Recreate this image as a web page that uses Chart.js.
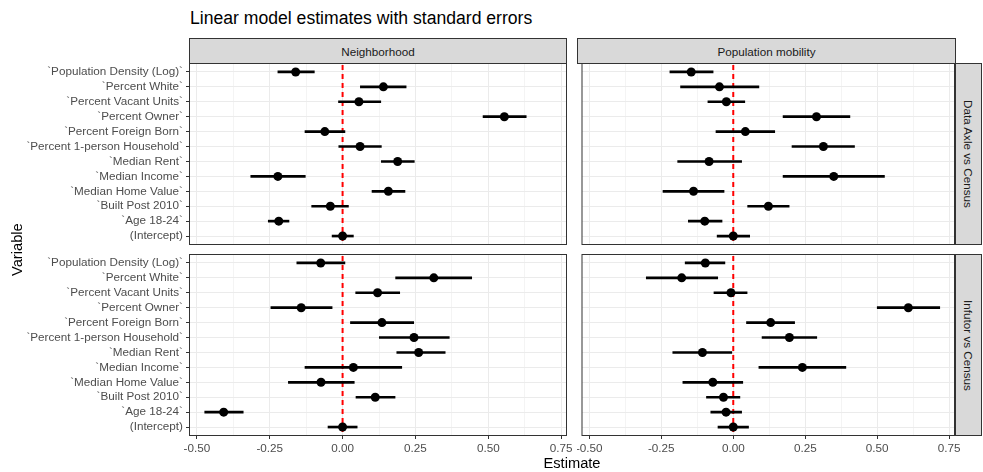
<!DOCTYPE html>
<html>
<head>
<meta charset="utf-8">
<script src="https://cdn.jsdelivr.net/npm/chart.js@4.4.1/dist/chart.umd.min.js"></script>
<style>
    body { margin: 0; background: #fff; }
    #wrap { position: relative; width: 983px; height: 472px; overflow: hidden; font-family: "Liberation Sans", Arial, sans-serif; }
    canvas { position: absolute; }
    .strip { position: absolute; background: #D9D9D9; border: 1px solid #333; box-sizing: border-box; color: #1A1A1A; font-size: 11.7px; display: flex; align-items: center; justify-content: center; z-index: 2; }
    .strip.side { writing-mode: vertical-rl; }
    .txt { position: absolute; color: #000; line-height: 1; white-space: nowrap; font-weight: normal; }
    #ytitle { left: 10px; top: 63px; width: 15px; height: 373px; writing-mode: vertical-rl; transform: rotate(180deg); text-align: center; }
</style>
</head>
<body>
<div id="wrap">
    <div class="txt" style="left:190px; top:10px; font-size:17.6px;">Linear model estimates with standard errors</div>
    <canvas id="nbAxle"></canvas>
    <canvas id="pmAxle"></canvas>
    <canvas id="nbInfutor"></canvas>
    <canvas id="pmInfutor"></canvas>
    <div class="strip" id="stripTopL" style="left:189px; top:38px; width:378px; height:26px;"></div>
    <div class="strip" id="stripTopR" style="left:577px; top:38px; width:379px; height:26px;"></div>
    <div class="strip side" id="stripSideT" style="left:955px; top:63px; width:27px; height:182px;"></div>
    <div class="strip side" id="stripSideB" style="left:955px; top:254px; width:27px; height:182px;"></div>
    <div class="txt" style="left:572px; top:456px; font-size:14.67px; transform:translateX(-50%);">Estimate</div>
    <div class="txt" id="ytitle" style="font-size:14.67px;">Variable</div>
</div>
<script>
// Data
const variables = ['`Population Density (Log)`', '`Percent White`', '`Percent Vacant Units`', '`Percent Owner`',
    '`Percent Foreign Born`', '`Percent 1-person Household`', '`Median Rent`', '`Median Income`',
    '`Median Home Value`', '`Built Post 2010`', '`Age 18-24`', '(Intercept)'];
const xTicks = [-0.5, -0.25, 0, 0.25, 0.5, 0.75];
const colFacets = ['Neighborhood', 'Population mobility'];
const rowFacets = ['Data Axle vs Census', 'Infutor vs Census'];

// Neighborhood / Data Axle vs Census
const nbAxleEst  = [-0.161, 0.140, 0.056, 0.555, -0.061, 0.060, 0.189, -0.222, 0.157, -0.042, -0.219, 0.000];
const nbAxleLow  = [-0.222, 0.061, -0.014, 0.482, -0.129, -0.013, 0.133, -0.315, 0.101, -0.106, -0.255, -0.036];
const nbAxleHigh = [-0.097, 0.218, 0.131, 0.630, 0.008, 0.133, 0.246, -0.128, 0.214, 0.020, -0.184, 0.037];

// Population mobility / Data Axle vs Census
const pmAxleEst  = [-0.146, -0.048, -0.024, 0.289, 0.042, 0.313, -0.084, 0.349, -0.138, 0.122, -0.099, 0.000];
const pmAxleLow  = [-0.220, -0.183, -0.088, 0.173, -0.060, 0.204, -0.193, 0.173, -0.244, 0.050, -0.156, -0.056];
const pmAxleHigh = [-0.070, 0.089, 0.040, 0.405, 0.144, 0.421, 0.029, 0.525, -0.032, 0.194, -0.039, 0.057];

// Neighborhood / Infutor vs Census
const nbInfEst  = [-0.075, 0.313, 0.120, -0.142, 0.135, 0.245, 0.261, 0.037, -0.074, 0.112, -0.408, 0.000];
const nbInfLow  = [-0.157, 0.182, 0.045, -0.246, 0.027, 0.126, 0.186, -0.129, -0.186, 0.046, -0.473, -0.050];
const nbInfHigh = [0.008, 0.443, 0.196, -0.036, 0.244, 0.366, 0.352, 0.203, 0.040, 0.180, -0.341, 0.050];

// Population mobility / Infutor vs Census
const pmInfEst  = [-0.097, -0.179, -0.008, 0.608, 0.130, 0.195, -0.107, 0.240, -0.071, -0.034, -0.025, 0.000];
const pmInfLow  = [-0.167, -0.302, -0.067, 0.500, 0.046, 0.100, -0.210, 0.089, -0.175, -0.093, -0.078, -0.053];
const pmInfHigh = [-0.029, -0.054, 0.048, 0.717, 0.213, 0.290, -0.005, 0.391, 0.033, 0.023, 0.029, 0.053];

// Layout
const PANEL_W = 378, PANEL_H = 182, PAD = 12, Y_AXIS_W = 189, X_AXIS_H = 30;
const X_MIN = -0.527, X_MAX = 0.77;

document.getElementById('stripTopL').textContent = colFacets[0];
document.getElementById('stripTopR').textContent = colFacets[1];
document.getElementById('stripSideT').textContent = rowFacets[0];
document.getElementById('stripSideB').textContent = rowFacets[1];

Chart.defaults.font.family = '"Liberation Sans", Arial, sans-serif';

const gridSteps = xTicks.flatMap((v, i) => i ? [(xTicks[i - 1] + v) / 2, v] : [v]);
const isMajor = v => xTicks.some(t => Math.abs(t - v) < 1e-9);

// red dashed reference line at 0
const zeroLine = {
    id: 'zeroLine',
    beforeDatasetsDraw(chart) {
        const { ctx, chartArea, scales } = chart;
        const px = scales.x.getPixelForValue(0);
        ctx.save();
        ctx.strokeStyle = '#FF0000';
        ctx.lineWidth = 2;
        ctx.setLineDash([5, 4]);
        ctx.beginPath();
        ctx.moveTo(px, chartArea.top + 2);
        ctx.lineTo(px, chartArea.bottom);
        ctx.stroke();
        ctx.restore();
    }
};

const panelBorder = {
    id: 'panelBorder',
    afterDraw(chart) {
        const { ctx, chartArea: a } = chart;
        ctx.save();
        ctx.strokeStyle = '#333';
        ctx.lineWidth = 1;
        ctx.strokeRect(a.left + 0.5, a.top + 0.5, a.width - 1, a.height - 1);
        ctx.restore();
    }
};

const makePanel = (id, est, low, high, showY, showX) => {
    const canvas = document.getElementById(id);
    const w = (showY ? Y_AXIS_W : 0) + PANEL_W + PAD;
    const h = PAD + PANEL_H + (showX ? X_AXIS_H : PAD);
    canvas.width = w; canvas.height = h;
    canvas.style.left = (showY ? 0 : 577) + 'px';
    canvas.style.top = ((showX ? 254 : 63) - PAD) + 'px';

    return new Chart(canvas, {
        type: 'bar',
        data: {
            datasets: [
                {
                    type: 'scatter', order: 0,
                    data: est.map((v, i) => ({ x: v, y: i })),
                    pointRadius: 4.5, pointHoverRadius: 4.5,
                    pointBackgroundColor: '#000', pointBorderColor: '#000', pointBorderWidth: 0
                },
                {
                    type: 'bar', order: 1,
                    data: low.map((v, i) => ({ x: [v, high[i]], y: i })),
                    backgroundColor: '#000', borderWidth: 0, barThickness: 2
                }
            ]
        },
        options: {
            indexAxis: 'y',
            responsive: false, animation: false, devicePixelRatio: 1,
            layout: { padding: { top: PAD, right: PAD, bottom: showX ? 0 : PAD, left: 0 } },
            plugins: { legend: { display: false }, tooltip: { enabled: false } },
            scales: {
                x: {
                    type: 'linear', min: X_MIN, max: X_MAX, bounds: 'data', offset: false,
                    afterBuildTicks: s => { s.ticks = gridSteps.map(v => ({ value: v })); },
                    afterFit: s => { s.height = showX ? X_AXIS_H : 0; s.paddingLeft = 0; s.paddingRight = 0; },
                    ticks: {
                        display: showX, color: '#4D4D4D', font: { size: 11.7 }, padding: 3,
                        maxRotation: 0, autoSkip: false,
                        callback: v => isMajor(v) ? v.toFixed(2) : ''
                    },
                    grid: {
                        offset: false,
                        color: c => isMajor(c.tick.value) ? '#EBEBEB' : '#F4F4F4', lineWidth: 1,
                        drawTicks: showX, tickLength: 3,
                        tickColor: c => isMajor(c.tick.value) ? '#333' : 'rgba(0,0,0,0)'
                    },
                    border: { display: false }
                },
                y: {
                    type: 'linear', reverse: true, min: -0.6, max: variables.length - 0.4, offset: false,
                    afterBuildTicks: s => { s.ticks = variables.map((_, i) => ({ value: i })); },
                    afterFit: s => { s.width = showY ? Y_AXIS_W : 0; s.paddingTop = 0; s.paddingBottom = 0; },
                    ticks: {
                        display: showY, color: '#4D4D4D', font: { size: 11.7 }, padding: 3,
                        autoSkip: false, callback: v => variables[v]
                    },
                    grid: { offset: false, color: '#EBEBEB', lineWidth: 1, drawTicks: showY, tickLength: 3, tickColor: '#333' },
                    border: { display: false }
                }
            }
        },
        plugins: [zeroLine, panelBorder]
    });
};

makePanel('nbAxle', nbAxleEst, nbAxleLow, nbAxleHigh, true, false);
makePanel('pmAxle', pmAxleEst, pmAxleLow, pmAxleHigh, false, false);
makePanel('nbInfutor', nbInfEst, nbInfLow, nbInfHigh, true, true);
makePanel('pmInfutor', pmInfEst, pmInfLow, pmInfHigh, false, true);
</script>
</body>
</html>
